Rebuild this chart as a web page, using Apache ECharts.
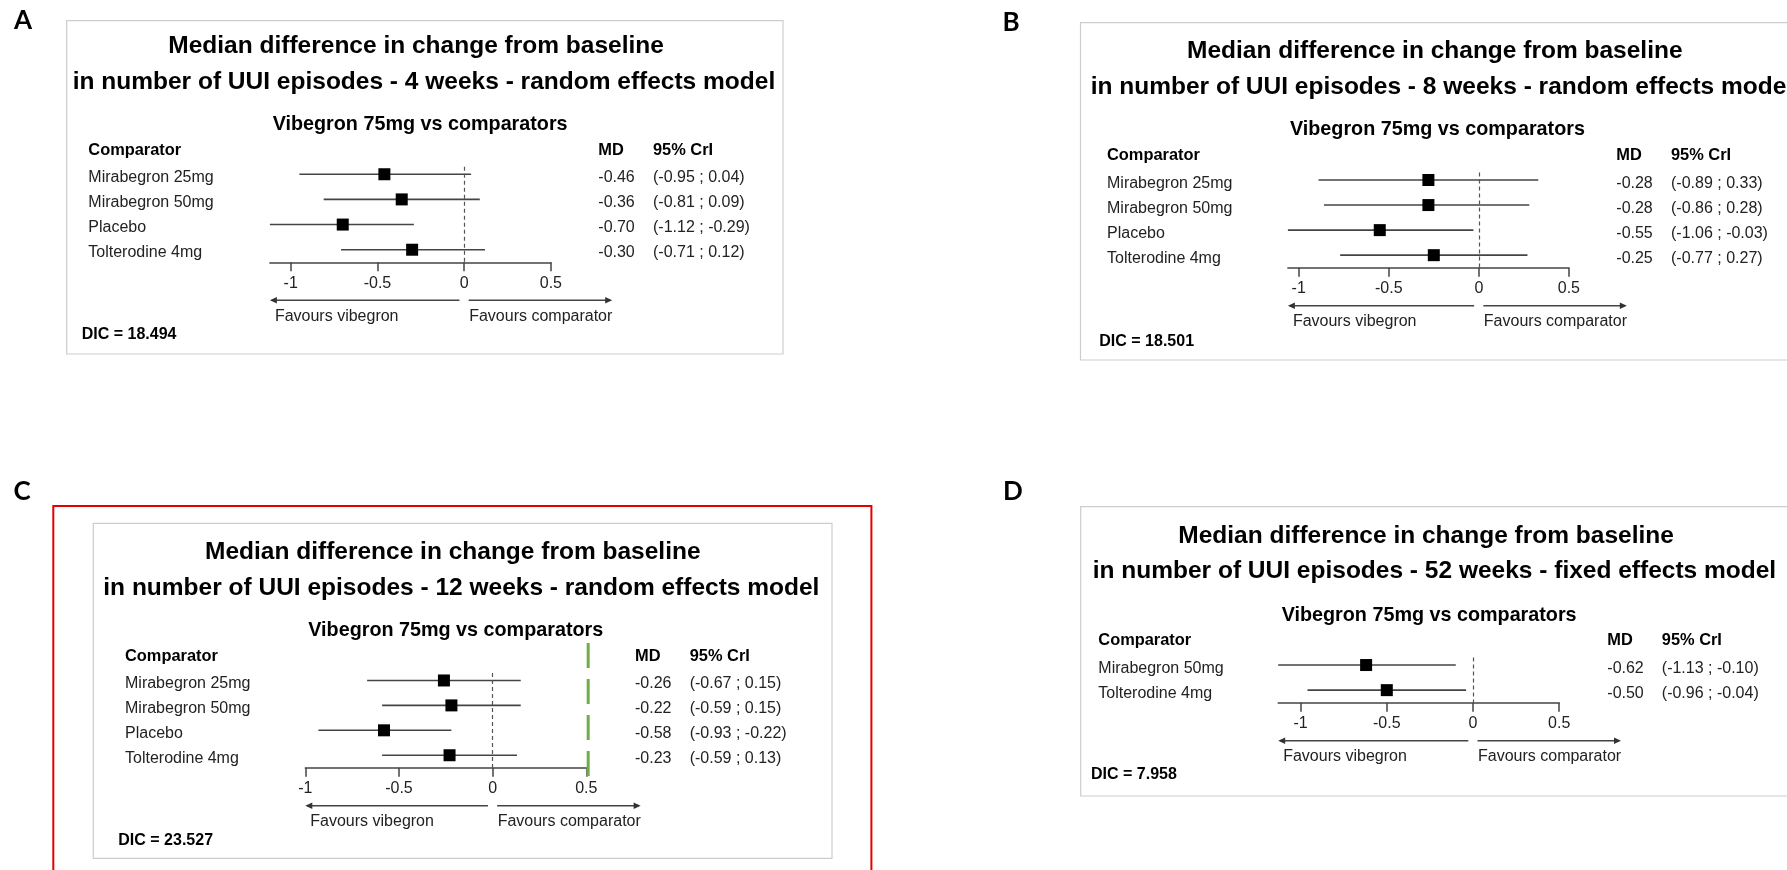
<!DOCTYPE html>
<html>
<head>
<meta charset="utf-8">
<script src="https://cdn.jsdelivr.net/npm/echarts@6/dist/echarts.min.js"></script>
<style>
html,body{margin:0;padding:0;background:#fff;}
#chart{width:1787px;height:870px;}
</style>
</head>
<body>
<div id="chart"></div>
<script>
// ---------------- DATA ----------------
const comparatorsA = ['Mirabegron 25mg', 'Mirabegron 50mg', 'Placebo', 'Tolterodine 4mg'];
const mdA = [-0.46, -0.36, -0.70, -0.30];
const lowerA = [-0.95, -0.81, -1.12, -0.71];
const upperA = [0.04, 0.09, -0.29, 0.12];
const dicA = '18.494';

const comparatorsB = ['Mirabegron 25mg', 'Mirabegron 50mg', 'Placebo', 'Tolterodine 4mg'];
const mdB = [-0.28, -0.28, -0.55, -0.25];
const lowerB = [-0.89, -0.86, -1.06, -0.77];
const upperB = [0.33, 0.28, -0.03, 0.27];
const dicB = '18.501';

const comparatorsC = ['Mirabegron 25mg', 'Mirabegron 50mg', 'Placebo', 'Tolterodine 4mg'];
const mdC = [-0.26, -0.22, -0.58, -0.23];
const lowerC = [-0.67, -0.59, -0.93, -0.59];
const upperC = [0.15, 0.15, -0.22, 0.13];
const dicC = '23.527';
const highlightValueC = 0.51;

const comparatorsD = ['Mirabegron 50mg', 'Tolterodine 4mg'];
const mdD = [-0.62, -0.50];
const lowerD = [-1.13, -0.96];
const upperD = [-0.10, -0.04];
const dicD = '7.958';

const xTicks = [-1, -0.5, 0, 0.5];
const xMax = 0.5;

const titleLine1 = 'Median difference in change from baseline';
const titleLine2A = 'in number of UUI episodes - 4 weeks - random effects model';
const titleLine2B = 'in number of UUI episodes - 8 weeks - random effects model';
const titleLine2C = 'in number of UUI episodes - 12 weeks - random effects model';
const titleLine2D = 'in number of UUI episodes - 52 weeks - fixed effects model';
const subTitle = 'Vibegron 75mg vs comparators';

// ---------------- LAYOUT ----------------
const FONT = '"Liberation Sans", Arial, Helvetica, sans-serif';
const PLOT_W = 281;
const LABEL_PAD = [6.5, 0, 0, 0];
const layoutA = {letter:'A', lx:23, ly:21, box:[66.7,20.7,783,354], t1:[168.3,46.7], t2:[72.7,82.7], sub:[272.7,124.3], head:150, cmpX:88.3, mdX:598.3, ciX:653, gridLeft:269.9, gridTop:166.7, axisY:262.3, dic:[81.7,335]};
const layoutB = {letter:'B', lx:1011, ly:23, box:[1080.5,22.7,1800,360], t1:[1187,51.7], t2:[1090.7,87.3], sub:[1290,130], head:155.7, cmpX:1107, mdX:1616.3, ciX:1671, gridLeft:1287.9, gridTop:172.5, axisY:267.7, dic:[1099.3,341.7]};
const layoutC = {letter:'C', lx:22, ly:492, box:[93.3,523.3,832,858.3], red:[53.3,506,871.4,885], t1:[205,552.7], t2:[103.3,588.3], sub:[308.3,631], head:656, cmpX:125, mdX:635, ciX:689.7, gridLeft:305.3, gridTop:673, axisY:767.7, dic:[118.3,840.7]};
const layoutD = {letter:'D', lx:1013, ly:492, box:[1080.7,506.7,1800,796], t1:[1178.3,536.7], t2:[1092.7,571.7], sub:[1281.7,615.7], head:640, cmpX:1098.3, mdX:1607.3, ciX:1661.8, gridLeft:1278.2, gridTop:657.5, axisY:702.7, dic:[1091,775]};

const panels = [
  {names:comparatorsA, md:mdA, lo:lowerA, hi:upperA, dic:dicA, t2:titleLine2A, L:layoutA},
  {names:comparatorsB, md:mdB, lo:lowerB, hi:upperB, dic:dicB, t2:titleLine2B, L:layoutB},
  {names:comparatorsC, md:mdC, lo:lowerC, hi:upperC, dic:dicC, t2:titleLine2C, L:layoutC, highlight:highlightValueC},
  {names:comparatorsD, md:mdD, lo:lowerD, hi:upperD, dic:dicD, t2:titleLine2D, L:layoutD}
];

const chart = echarts.init(document.getElementById('chart'), null, {renderer:'canvas'});

const labelRich = {fontSize:16, color:'#222', fontFamily:FONT};
const grids = [], xAxes = [], yAxes = [], series = [];
panels.forEach((p, i) => {
  const n = p.names.length;
  const L = p.L;
  p.xMin = Math.min(-1, ...p.lo);
  const rowVals = p.names.map((_, k) => k + 1);
  grids.push({left:L.gridLeft, top:L.gridTop, width:PLOT_W, height:L.axisY - L.gridTop, containLabel:false});
  xAxes.push({
    gridIndex:i, type:'value', min:p.xMin, max:xMax,
    axisLine:{show:true, onZero:false, lineStyle:{color:'#444', width:1.5}},
    axisTick:{show:true, customValues:xTicks, length:9, inside:false, lineStyle:{color:'#444', width:1.5}},
    axisLabel:{show:true, customValues:xTicks, margin:13, fontSize:16, color:'#222', fontFamily:FONT, formatter:v => String(v)},
    splitLine:{show:false}
  });
  yAxes.push({
    gridIndex:i, type:'value', min:0.7, max:n + 0.5, inverse:true, position:'left',
    axisLine:{show:false}, axisTick:{show:false}, splitLine:{show:false},
    axisLabel:{show:true, customValues:rowVals,
      formatter:v => { const k = Math.round(v) - 1; return (k < 0 || k >= n) ? '' : '{n|' + p.names[k] + '}'; },
      align:'left', margin:L.gridLeft - L.cmpX, padding:LABEL_PAD,
      rich:{n:Object.assign({align:'left'}, labelRich)}}
  });
  yAxes.push({
    gridIndex:i, type:'value', min:0.7, max:n + 0.5, inverse:true, position:'right',
    axisLine:{show:false}, axisTick:{show:false}, splitLine:{show:false},
    axisLabel:{show:true, customValues:rowVals,
      formatter:v => { const k = Math.round(v) - 1; if (k < 0 || k >= n) return '';
        return '{md|' + p.md[k].toFixed(2) + '}{ci|(' + p.lo[k].toFixed(2) + ' ; ' + p.hi[k].toFixed(2) + ')}'; },
      align:'left', margin:L.mdX - (L.gridLeft + PLOT_W), padding:LABEL_PAD,
      rich:{
        md:Object.assign({width:L.ciX - L.mdX, align:'left'}, labelRich),
        ci:Object.assign({}, labelRich)
      }}
  });
  series.push({
    type:'custom', xAxisIndex:i, yAxisIndex:2 * i, silent:true, z:2,
    data:p.lo.map((lo, k) => [lo, p.hi[k], k + 1]),
    encode:{x:[0, 1], y:2},
    renderItem:(params, api) => {
      const a = api.coord([api.value(0), api.value(2)]);
      const b = api.coord([api.value(1), api.value(2)]);
      return {type:'line', shape:{x1:a[0], y1:a[1], x2:b[0], y2:b[1]}, style:{stroke:'#444', lineWidth:1.6}};
    }
  });
  series.push({
    type:'scatter', xAxisIndex:i, yAxisIndex:2 * i, silent:true, z:3,
    symbol:'rect', symbolSize:12, itemStyle:{color:'#000', opacity:1},
    data:p.md.map((m, k) => [m, k + 1]),
    markLine:{silent:true, symbol:['none', 'none'], label:{show:false}, animation:false,
      lineStyle:{color:'#555', width:1.2, type:[4, 3]}, emphasis:{disabled:true},
      data:[{xAxis:0}]}
  });
});

chart.setOption({
  animation:false,
  backgroundColor:'#fff',
  grid:grids, xAxis:xAxes, yAxis:yAxes, series:series
});

// ---------------- ANNOTATIONS ----------------
function txt(x, y, text, font, fill, align) {
  return {type:'text', x:x, y:y, silent:true, z:10,
    style:{text:text, font:font, fill:fill || '#000', align:align || 'left', verticalAlign:'middle'}};
}
function seg(x1, y1, x2, y2, stroke, w, dash) {
  const s = {stroke:stroke, lineWidth:w};
  if (dash) s.lineDash = dash;
  return {type:'line', silent:true, z:5, shape:{x1:x1, y1:y1, x2:x2, y2:y2}, style:s};
}
function box(b, stroke, w) {
  return {type:'rect', silent:true, z:1, shape:{x:b[0], y:b[1], width:b[2] - b[0], height:b[3] - b[1]},
    style:{fill:'none', stroke:stroke, lineWidth:w}};
}

const BOLD = (s) => 'bold ' + s + 'px ' + FONT;
const REG = (s) => s + 'px ' + FONT;
const g = [];
panels.forEach((p, i) => {
  const L = p.L;
  const px = v => chart.convertToPixel({xAxisIndex:i}, v);
  const x0 = px(0), xm = px(p.xMin);
  const ay = L.axisY + 38;
  if (L.red) g.push(box(L.red, '#e60000', 2));
  g.push(box(L.box, '#cdcdcd', 1.2));
  g.push(txt(L.lx, L.ly, L.letter, 'bold 26px Lato, ' + FONT, '#000', 'center'));
  g.push(txt(L.t1[0], L.t1[1], titleLine1, BOLD(24.5)));
  g.push(txt(L.t2[0], L.t2[1], p.t2, BOLD(24.5)));
  g.push(txt(L.sub[0], L.sub[1], subTitle, BOLD(19.75)));
  g.push(txt(L.cmpX, L.head, 'Comparator', BOLD(16.4)));
  g.push(txt(L.mdX, L.head, 'MD', BOLD(16.4)));
  g.push(txt(L.ciX, L.head, '95% CrI', BOLD(16.4)));
  g.push(txt(L.dic[0], L.dic[1], 'DIC = ' + p.dic, BOLD(16)));
  // arrows
  g.push(seg(x0 - 4.7, ay, xm + 2, ay, '#444', 1.5));
  g.push({type:'polygon', silent:true, z:5, shape:{points:[[xm, ay], [xm + 7, ay - 3.2], [xm + 7, ay + 3.2]]}, style:{fill:'#333'}});
  const xr = x0 + 148;
  g.push(seg(x0 + 4.5, ay, xr - 2, ay, '#444', 1.5));
  g.push({type:'polygon', silent:true, z:5, shape:{points:[[xr, ay], [xr - 7, ay - 3.2], [xr - 7, ay + 3.2]]}, style:{fill:'#333'}});
  g.push(txt(xm + 5, L.axisY + 54, 'Favours vibegron', REG(16), '#222'));
  g.push(txt(x0 + 5, L.axisY + 54, 'Favours comparator', REG(16), '#222'));
  if (p.highlight !== undefined) {
    const xh = px(p.highlight);
    g.push(seg(xh, 643, xh, 777, '#70AD47', 3, [25, 11]));
  }
});
chart.setOption({graphic:g});
</script>
</body>
</html>
